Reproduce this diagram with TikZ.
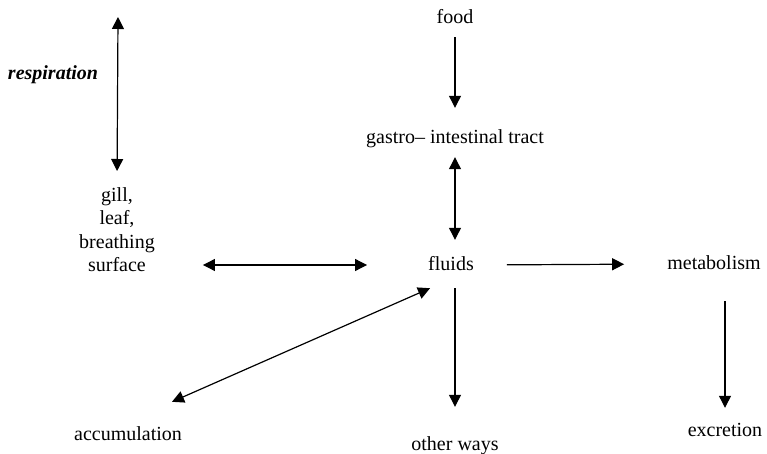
\documentclass[tikz,border=0pt]{standalone}
\usepackage{fontspec}
\setmainfont{Liberation Serif}
\usepackage{tikz}
\usetikzlibrary{arrows.meta, positioning, calc}

\begin{document}
\begin{tikzpicture}[x=1pt, y=-1pt,
  every node/.style={font=\fontsize{20}{23.5}\selectfont},
  term/.style={inner sep=0pt, text height=14pt, text depth=4pt},
  flow/.style={line width=1.2pt, -{Triangle[length=12pt,width=12pt]}},
  both/.style={line width=1.2pt, {Triangle[length=12pt,width=12pt]}-{Triangle[length=12pt,width=12pt]}}]
  \useasboundingbox (0,0) rectangle (767,454);

  \node[term] (food) at (455,19) {food};
  \node[term] (gastro) at (455,139) {gastro– intestinal tract};
  \node[term] (fluids) at (451,265) {fluids};
  \node[term] (metab) at (714,264) {metabolism};
  \node[term] (excr) at (725,431) {excretion};
  \node[term] (other) at (455,445) {other ways};
  \node[term] (accum) at (128,435) {accumulation};
  \node[term, font=\fontsize{20}{23.5}\selectfont\bfseries\itshape] (resp) at (53,75) {respiration};
  \node[inner sep=0pt, align=center, anchor=north] (gill) at (117,187) {gill,\\leaf,\\breathing\\surface};
  \coordinate (air) at (118,17);

  \draw[both, shorten >=16pt] (air) -- (gill.north);
  \draw[both, shorten <=48pt, shorten >=61pt] (gill.east |- fluids.west) -- (fluids.west);
  \draw[flow, shorten <=9pt, shorten >=22pt] (food.south) -- (gastro.north);
  \draw[both, shorten <=9pt, shorten >=16pt] (gastro.south) -- (gastro.south |- fluids.north);
  \draw[flow, shorten <=33pt, shorten >=43pt] (fluids.east) -- (metab.west);
  \draw[flow, shorten <=28pt, shorten >=14pt] (metab.south -| excr) -- (excr.north);
  \draw[flow, shorten <=14pt, shorten >=29pt] (fluids.south -| other) -- (other.north);
  \draw[both] ([xshift=44pt, yshift=24pt]accum.north) -- ([xshift=2pt, yshift=-14pt]fluids.south west);
\end{tikzpicture}
\end{document}
